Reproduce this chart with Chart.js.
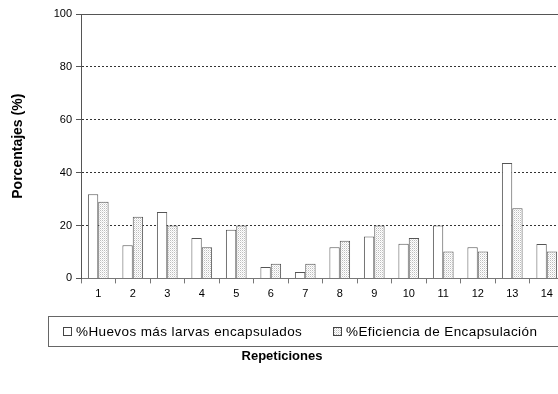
<!DOCTYPE html>
<html>
<head>
<meta charset="utf-8">
<script src="https://cdn.jsdelivr.net/npm/chart.js@4.4.1/dist/chart.umd.min.js"></script>
<style>
    html, body { margin: 0; padding: 0; background: #fff; overflow: hidden; }
    #wrap { width: 564px; height: 394px; }
</style>
</head>
<body>
<div id="wrap"><canvas id="barChart" width="564" height="394"></canvas></div>
<script>
    'use strict';
    var repeticiones = ['1', '2', '3', '4', '5', '6', '7', '8', '9', '10', '11', '12', '13', '14'];
    var huevosLarvas = [31.8, 12.5, 25.1, 15.3, 18.4, 4.3, 2.4, 11.8, 15.8, 13.1, 20.0, 11.8, 43.6, 13.0];
    var eficiencia = [29.0, 23.3, 20.0, 11.8, 20.0, 5.5, 5.5, 14.2, 20.0, 15.3, 10.2, 10.2, 26.5, 10.2];
    var yTicks = [0, 20, 40, 60, 80, 100];

    Chart.defaults.font.family = '"Liberation Sans", Arial, sans-serif';
    Chart.defaults.color = '#000';

    // stipple fill for the second series
    var dotCanvas = document.createElement('canvas');
    dotCanvas.width = 2;
    dotCanvas.height = 2;
    var dctx = dotCanvas.getContext('2d');
    dctx.fillStyle = '#fff';
    dctx.fillRect(0, 0, 2, 2);
    dctx.fillStyle = '#bdbdbd';
    dctx.fillRect(0, 0, 1, 1);
    dctx.fillStyle = '#e4e4e4';
    dctx.fillRect(1, 1, 1, 1);
    var ctxEl = document.getElementById('barChart').getContext('2d');
    var dotted = ctxEl.createPattern(dotCanvas, 'repeat');

    var boxedLegend = {
        id: 'boxedLegend',
        afterDraw: function (chart) {
            var ctx = chart.ctx;
            ctx.save();
            ctx.strokeStyle = '#666';
            ctx.lineWidth = 1;
            ctx.strokeRect(48.5, 316.5, 560, 30);
            ctx.font = '13.5px "Liberation Sans", Arial, sans-serif';
            ctx.letterSpacing = '0.4px';
            ctx.textBaseline = 'middle';
            var items = [{x: 63, ds: chart.data.datasets[0]}, {x: 333, ds: chart.data.datasets[1]}];
            items.forEach(function (item) {
                ctx.fillStyle = item.ds.backgroundColor;
                ctx.fillRect(item.x + 0.5, 327.5, 8, 8);
                ctx.strokeStyle = '#444';
                ctx.strokeRect(item.x + 0.5, 327.5, 8, 8);
                ctx.fillStyle = '#000';
                ctx.fillText(item.ds.label, item.x + 13, 332);
            });
            ctx.restore();
        }
    };

    var chart = new Chart(ctxEl, {
        type: 'bar',
        data: {
            labels: repeticiones,
            datasets: [
                {
                    label: '%Huevos más larvas encapsulados',
                    data: huevosLarvas,
                    backgroundColor: '#fff',
                    borderColor: '#555',
                    borderWidth: 1
                },
                {
                    label: '%Eficiencia de Encapsulación',
                    data: eficiencia,
                    backgroundColor: dotted,
                    borderColor: '#555',
                    borderWidth: 1
                }
            ]
        },
        options: {
            responsive: false,
            animation: false,
            layout: {padding: {top: 14, right: 0, left: 0, bottom: 0}},
            datasets: {bar: {categoryPercentage: 0.6, barPercentage: 1}},
            plugins: {
                legend: {display: false},
                tooltip: {enabled: false},
                title: {
                    display: true,
                    position: 'bottom',
                    text: 'Repeticiones',
                    font: {size: 13, weight: 'bold'},
                    padding: {top: 0, bottom: 30}
                }
            },
            scales: {
                x: {
                    offset: true,
                    grid: {display: true, drawOnChartArea: false, drawTicks: true, tickLength: 5, color: '#777', offset: true},
                    border: {color: '#777', width: 1},
                    ticks: {font: {size: 11}, padding: 4, maxRotation: 0},
                    afterFit: function (scale) { scale.height = 70; }
                },
                top: {
                    position: 'top',
                    type: 'category',
                    labels: repeticiones,
                    grid: {display: false},
                    ticks: {display: false},
                    border: {color: '#555', width: 1},
                    afterFit: function (scale) { scale.height = 0; }
                },
                y: {
                    min: 0,
                    max: 100,
                    afterBuildTicks: function (scale) {
                        scale.ticks = yTicks.map(function (v) { return {value: v}; });
                    },
                    grid: {
                        color: function (c) { return c.tick && c.tick.value === 100 ? 'rgba(0,0,0,0)' : '#333'; },
                        tickColor: '#555',
                        tickLength: 5,
                        tickBorderDash: []
                    },
                    border: {color: '#555', width: 1, dash: [2, 2]},
                    ticks: {font: {size: 11}, padding: 4},
                    title: {
                        display: true,
                        text: 'Porcentajes (%)',
                        font: {size: 14, weight: 'bold'},
                        padding: {top: 10, bottom: 0}
                    },
                    afterFit: function (scale) { scale.width = 81; }
                }
            }
        },
        plugins: [boxedLegend]
    });
</script>
</body>
</html>
